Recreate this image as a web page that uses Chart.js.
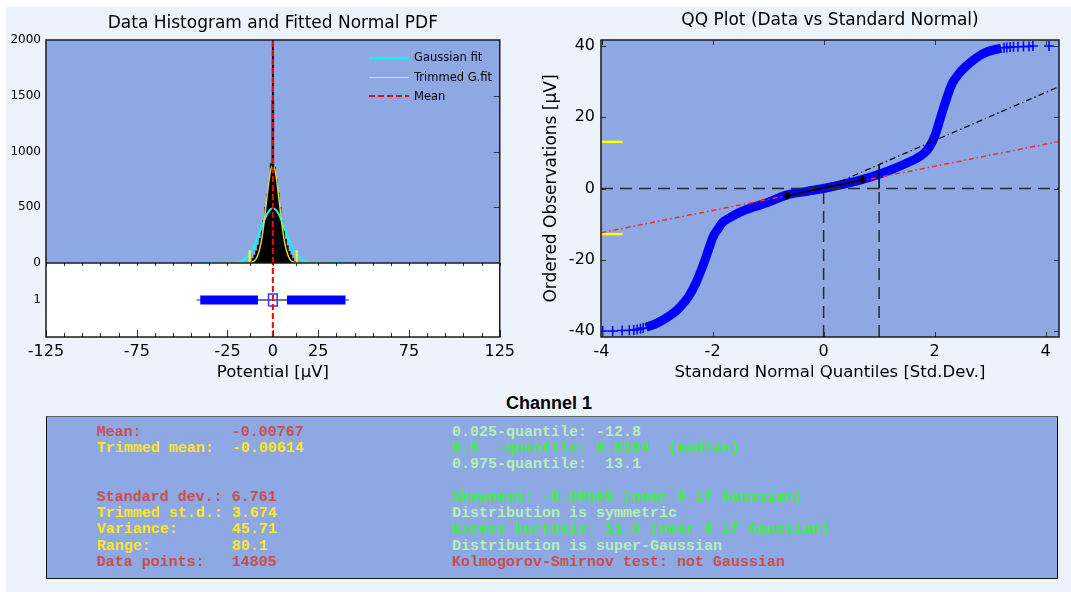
<!DOCTYPE html>
<html>
<head>
<meta charset="utf-8">
<title>Channel 1</title>
<script src="https://cdn.jsdelivr.net/npm/chart.js@4.4.1/dist/chart.umd.min.js"></script>
<style>
  html, body { margin: 0; padding: 0; }
  body { width: 1071px; height: 592px; position: relative; overflow: hidden; background: #fff; font-family: "DejaVu Sans", sans-serif; }
  #panel { position: absolute; left: 6px; top: 7px; width: 1065px; height: 585px; background: #edf3fc; }
  canvas { position: absolute; top: 0; }
  #histChart { left: 0; }
  #qqChart { left: 520px; }
  .legend { position: absolute; left: 369px; font-size: 11.5px; color: #000; height: 19px; line-height: 19px; white-space: nowrap; }
  .legend i { display: inline-block; width: 40px; height: 2px; vertical-align: middle; margin-right: 5px; }
  #channel { position: absolute; left: 0; width: 1098px; top: 393px; line-height: 20px; text-align: center; font: bold 18px "Liberation Sans", Arial, sans-serif; }
  #stats { position: absolute; left: 46px; top: 416px; width: 1012px; height: 163px; box-sizing: border-box; background: #8ea8e4; border: 1px solid #111; border-top-color: #666; }
  #stats pre { position: absolute; top: 7.5px; margin: 0; font: bold 15px/16.3px "Liberation Mono", monospace; }
  .r { color: #c8504c; } .y { color: #ffe61e; } .g { color: #b4f0b4; } .G { color: #3cf03c; }
</style>
</head>
<body>
<div id="panel"></div>
<canvas id="histChart" width="520" height="392"></canvas>
<canvas id="qqChart" width="551" height="392"></canvas>

<div class="legend" style="top:48px"><i style="background:#00ffff"></i>Gaussian fit</div>
<div class="legend" style="top:68px"><i style="background:#eeee40;height:1.5px"></i>Trimmed G.fit</div>
<div class="legend" style="top:86.5px"><i style="height:2.5px;background:repeating-linear-gradient(90deg,#ff0000 0 6px,transparent 6px 9px)"></i>Mean</div>

<div id="channel">Channel 1</div>
<div id="stats">
<pre style="left:49.7px"><span class="r">Mean:          -0.00767</span>
<span class="y">Trimmed mean:  -0.00614</span>


<span class="r">Standard dev.: 6.761</span>
<span class="y">Trimmed st.d.: 3.674</span>
<span class="y">Variance:      45.71</span>
<span class="y">Range:         80.1</span>
<span class="r">Data points:   14805</span></pre>
<pre style="left:405px"><span class="g">0.025-quantile: -12.8</span>
<span class="G">0.5  -quantile: 0.0104  (median)</span>
<span class="g">0.975-quantile:  13.1</span>

<span class="G">Skewness: -0.00509 (near 0 if Gaussian)</span>
<span class="g">Distribution is symmetric</span>
<span class="G">Excess kurtosis: 11.6 (near 0 if Gaussian)</span>
<span class="g">Distribution is super-Gaussian</span>
<span class="r">Kolmogorov-Smirnov test: not Gaussian</span></pre>
</div>

<script>
// ---- histogram panel ----
const histBins   = [-15,-14,-13,-12,-11,-10,-9,-8,-7,-6,-5,-4,-3,-2,-1,0,1,2,3,4,5,6,7,8,9,10,11,12,13,14,15];
const histCounts = [2,4,8,15,40,70,110,160,220,290,380,500,620,740,890,1460,860,750,630,500,380,290,215,155,105,70,40,15,8,4,2];

const gaussX = [-40,-30,-25,-20,-16,-14,-12,-10,-8,-6,-4,-2,0,2,4,6,8,10,12,14,16,20,25,30,40];
const gaussY = [0,1,3,6,30,57,101,164,243,331,411,469,490,469,411,331,243,164,101,57,30,6,3,1,0];

const trimX = [-31,-16,-14,-12,-11,-10,-9,-8,-7,-6,-5,-4,-3,-2,-1,0,1,2,3,4,5,6,7,8,9,10,11,12,14,16,31];
const trimY = [0,0,1,4,10,22,45,85,145,230,345,485,625,755,845,875,845,755,625,485,345,230,145,85,45,22,10,4,1,0,0];

const meanValue = -0.00767;
const medianValue = 0.0104;
const quantiles = [-12.8, 13.1];
const quantileMarkHeight = 115;

const boxWhisker  = [-42, 42];
const boxInner    = [-8.2, 7.8];
const boxOutliers = [[-40, -8.2], [7.8, 40]];
const boxCore     = [-2.4, 2.4];

const histXTicks = [-125, -75, -25, 0, 25, 75, 125];
const histXMinor = [-115,-105,-95,-85,-65,-55,-45,-35,-12.5,12.5,35,45,55,65,85,95,105,115];
const histYTicks = [0, 500, 1000, 1500, 2000];

// ---- QQ panel ----
const qqX = [-3.2,-3.0,-2.75,-2.6,-2.43,-2.3,-2.18,-2.08,-1.99,-1.9,-1.83,-1.7,-1.54,-1.3,-1.04,-0.66,-0.3,0,0.3,0.67,1.05,1.3,1.49,1.7,1.81,1.9,2.0,2.06,2.13,2.22,2.32,2.45,2.63,2.8,2.95,3.2];
const qqY = [-39.0,-37.8,-35.5,-33.5,-30.3,-26.5,-21.9,-17.5,-13.5,-11.3,-9.7,-8.3,-6.9,-5.4,-4.1,-1.8,-0.8,0,1.0,2.4,4.3,5.8,7.1,8.7,9.9,11.5,14.6,17.5,21.1,25.5,29.6,32.5,35.2,37.2,38.4,39.4];
const qqTailX = [-3.98,-3.8,-3.63,-3.5,-3.42,-3.36,-3.3,-3.25, 3.25,3.3,3.36,3.42,3.5,3.6,3.7,3.77,4.06];
const qqTailY = [-40,-40,-39.9,-39.8,-39.7,-39.6,-39.4,-39.2, 39.5,39.6,39.7,39.8,39.8,39.9,39.9,40,40];

const robustLine = [[-4.01, -12.4], [4.24, 13.2]];
const sdLine     = [[0.3, 2.0], [4.24, 28.6]];
const iqrSegment = [[-0.66, -2.0], [0.7, 2.4]];
const sdValue = 6.761;

const qqXTicks = [-4, -2, 0, 2, 4];
const qqYTicks = [-40, -20, 0, 20, 40];

const plotBlue = '#8ea8e4';

Chart.defaults.font.family = "'DejaVu Sans', sans-serif";
Chart.defaults.color = '#000';

const pts = (xs, ys) => xs.map((x, i) => ({x: x, y: ys[i]}));
const seg = arr => arr.map(p => ({x: p[0], y: p[1]}));

// fill plot backgrounds per y-scale band
const areaFill = {
  id: 'areaFill',
  beforeDraw(chart, args, opts) {
    const {ctx, chartArea} = chart;
    ctx.save();
    opts.areas.forEach(function (a) {
      const s = chart.scales[a[0]];
      ctx.fillStyle = a[1];
      ctx.fillRect(chartArea.left, s.top, chartArea.right - chartArea.left, s.bottom - s.top);
    });
    ctx.restore();
  }
};

// frame + inward tick marks
const frame = {
  id: 'frame',
  afterDatasetsDraw(chart, args, opts) {
    const {ctx, chartArea: a} = chart;
    ctx.save();
    ctx.strokeStyle = '#333';
    ctx.lineWidth = 1;
    (opts.marks || []).forEach(function (m) {
      const s = chart.scales[m.scale];
      m.values.forEach(function (v) {
        const p = Math.round(s.getPixelForValue(v)) + 0.5;
        ctx.beginPath();
        if (s.isHorizontal()) {
          const y0 = m.edge === 'top' ? a.top : m.edge === 'bottom' ? a.bottom : chart.scales[m.edge].bottom;
          ctx.moveTo(p, y0); ctx.lineTo(p, y0 + m.dir * m.len);
        } else {
          const x0 = m.edge === 'left' ? a.left : a.right;
          ctx.moveTo(x0, p); ctx.lineTo(x0 + m.dir * m.len, p);
        }
        ctx.stroke();
      });
    });
    ctx.strokeStyle = '#1a1a1a';
    ctx.lineWidth = 1.5;
    (opts.splits || []).forEach(function (id) {
      const y = chart.scales[id].bottom;
      ctx.beginPath(); ctx.moveTo(a.left, y); ctx.lineTo(a.right, y); ctx.stroke();
    });
    ctx.strokeRect(a.left, a.top, a.right - a.left, a.bottom - a.top);
    ctx.restore();
  }
};

function vline(x, y0, y1, axis, color, width, dash) {
  return { type: 'line', data: [{x: x, y: y0}, {x: x, y: y1}], yAxisID: axis,
           borderColor: color, borderWidth: width, borderDash: dash || [], pointRadius: 0 };
}
function hline(x0, x1, y, axis, color, width) {
  return { type: 'line', data: [{x: x0, y: y}, {x: x1, y: y}], yAxisID: axis,
           borderColor: color, borderWidth: width, pointRadius: 0, borderCapStyle: 'butt' };
}

const fixedTicks = list => s => { s.ticks = list.map(v => ({value: v})); };

const boxH = 0.16;
const coreRect = [
  {x: boxCore[0], y: 1 - boxH}, {x: boxCore[1], y: 1 - boxH},
  {x: boxCore[1], y: 1 + boxH}, {x: boxCore[0], y: 1 + boxH}, {x: boxCore[0], y: 1 - boxH}
];

new Chart(document.getElementById('histChart'), {
  type: 'bar',
  data: {
    datasets: [
      vline(meanValue, 0, 2000, 'yHist', '#ff0000', 2, [6, 3]),
      vline(meanValue, 0, 2, 'yBox', '#ff0000', 2, [6, 3]),
      { type: 'line', data: coreRect, yAxisID: 'yBox', borderColor: '#3535ff', borderWidth: 1.5, pointRadius: 0 },
      hline(boxOutliers[0][0], boxOutliers[0][1], 1, 'yBox', '#0000ff', 9),
      hline(boxOutliers[1][0], boxOutliers[1][1], 1, 'yBox', '#0000ff', 9),
      hline(boxInner[0], boxInner[1], 1, 'yBox', '#6a6a6a', 1.5),
      hline(boxWhisker[0], boxWhisker[1], 1, 'yBox', '#8a8af0', 2),
      vline(medianValue, 0, 2000, 'yHist', '#000000', 2),
      vline(quantiles[0], 0, quantileMarkHeight, 'yHist', '#ffff00', 2),
      vline(quantiles[1], 0, quantileMarkHeight, 'yHist', '#ffff00', 2),
      { type: 'line', data: pts(trimX, trimY), yAxisID: 'yHist', borderColor: '#d8d840', borderWidth: 1.5,
        pointRadius: 0, cubicInterpolationMode: 'monotone' },
      { type: 'line', data: pts(gaussX, gaussY), yAxisID: 'yHist', borderColor: '#00ffff', borderWidth: 2,
        pointRadius: 0, cubicInterpolationMode: 'monotone' },
      { type: 'bar', data: pts(histBins, histCounts), yAxisID: 'yHist', backgroundColor: '#000',
        barPercentage: 1, categoryPercentage: 1, borderWidth: 0 }
    ]
  },
  options: {
    responsive: false,
    animation: false,
    layout: { padding: { top: 0, right: 16, left: 0, bottom: 0 } },
    plugins: {
      legend: { display: false },
      tooltip: { enabled: false },
      title: { display: true, text: 'Data Histogram and Fitted Normal PDF', fullSize: false,
               font: { size: 17, weight: 'normal' }, color: '#000', padding: { top: 13, bottom: 6.6 } },
      areaFill: { areas: [['yHist', plotBlue], ['yBox', '#ffffff']] },
      frame: {
        splits: ['yHist'],
        marks: [
          { scale: 'x', values: histXMinor, edge: 'bottom', dir: -1, len: 4 },
          { scale: 'x', values: histXTicks, edge: 'bottom', dir: -1, len: 7 },
          { scale: 'x', values: histXMinor.concat(histXTicks), edge: 'yHist', dir: 1, len: 3 },
          { scale: 'yHist', values: [500, 1000, 1500], edge: 'right', dir: -1, len: 6 }
        ]
      }
    },
    scales: {
      x: {
        type: 'linear', offset: false, min: -125, max: 125,
        afterBuildTicks: fixedTicks(histXTicks),
        afterFit: s => { s.height = 55; },
        grid: { display: false, drawTicks: false }, border: { display: false },
        ticks: { font: { size: 16 }, padding: 5, maxRotation: 0, autoSkip: false, callback: v => String(v) },
        title: { display: true, text: 'Potential [µV]', font: { size: 16.5 }, padding: { top: 0, bottom: 9 } }
      },
      // stacked left axes are placed in reverse order: box strip listed first ends up below
      yBox: {
        type: 'linear', position: 'left', stack: 'hist', stackWeight: 74, min: 0, max: 2,
        afterBuildTicks: fixedTicks([1]),
        afterFit: s => { s.width = 46; },
        grid: { display: false, drawTicks: false }, border: { display: false },
        ticks: { font: { size: 12 }, padding: 5, callback: v => String(v) }
      },
      yHist: {
        type: 'linear', position: 'left', stack: 'hist', stackWeight: 223, min: 0, max: 2000,
        afterBuildTicks: fixedTicks(histYTicks),
        afterFit: s => { s.width = 46; },
        grid: { display: false, drawTicks: false }, border: { display: false },
        ticks: { font: { size: 12 }, padding: 5, callback: v => String(v) }
      }
    }
  },
  plugins: [areaFill, frame]
});

new Chart(document.getElementById('qqChart'), {
  type: 'scatter',
  data: {
    datasets: [
      { data: seg(iqrSegment), showLine: true, borderColor: '#000', borderWidth: 2,
        pointStyle: 'rectRot', pointRadius: 3, pointBackgroundColor: '#000', pointBorderColor: '#000' },
      { data: [{x: 1, y: 0}, {x: 1, y: sdValue}], showLine: true, borderColor: '#000', borderWidth: 1.5, pointRadius: 0 },
      { data: seg(robustLine), showLine: true, borderColor: '#e83030', borderWidth: 1.5,
        borderDash: [5, 3, 1.5, 3], pointRadius: 0 },
      { data: seg(sdLine), showLine: true, borderColor: '#000', borderWidth: 1.2,
        borderDash: [6, 3, 1.5, 3], pointRadius: 0 },
      { data: [{x: -4.01, y: 0}, {x: 4.24, y: 0}], showLine: true, borderColor: '#2a2a2a', borderWidth: 1.5,
        borderDash: [12, 7], pointRadius: 0 },
      { data: [{x: 0, y: -41.7}, {x: 0, y: 0}], showLine: true, borderColor: '#2a2a2a', borderWidth: 1.5,
        borderDash: [12, 7], pointRadius: 0 },
      { data: [{x: 1, y: -41.7}, {x: 1, y: 0}], showLine: true, borderColor: '#2a2a2a', borderWidth: 1.5,
        borderDash: [12, 7], pointRadius: 0 },
      { data: [{x: -4.01, y: quantiles[1]}, {x: -3.62, y: quantiles[1]}], showLine: true,
        borderColor: '#ffff00', borderWidth: 2.5, pointRadius: 0 },
      { data: [{x: -4.01, y: quantiles[0]}, {x: -3.62, y: quantiles[0]}], showLine: true,
        borderColor: '#ffff00', borderWidth: 2.5, pointRadius: 0 },
      { data: pts(qqTailX, qqTailY), showLine: false, pointStyle: 'cross', pointRadius: 5,
        borderColor: '#0000ff', pointBorderWidth: 1.5 },
      { data: pts(qqX, qqY), showLine: true, borderColor: '#0000ff', borderWidth: 9, pointRadius: 0,
        cubicInterpolationMode: 'monotone', borderCapStyle: 'butt' }
    ]
  },
  options: {
    responsive: false,
    animation: false,
    layout: { padding: { top: 0, right: 12, left: 0, bottom: 0 } },
    plugins: {
      legend: { display: false },
      tooltip: { enabled: false },
      title: { display: true, text: 'QQ Plot (Data vs Standard Normal)', fullSize: false,
               font: { size: 17, weight: 'normal' }, color: '#000', padding: { top: 10, bottom: 9.6 } },
      areaFill: { areas: [['y', plotBlue]] },
      frame: {
        marks: [
          { scale: 'x', values: qqXTicks, edge: 'bottom', dir: -1, len: 5 },
          { scale: 'x', values: qqXTicks, edge: 'top', dir: 1, len: 5 },
          { scale: 'y', values: qqYTicks, edge: 'left', dir: 1, len: 5 },
          { scale: 'y', values: qqYTicks, edge: 'right', dir: -1, len: 5 }
        ]
      }
    },
    scales: {
      x: {
        type: 'linear', min: -4.01, max: 4.24,
        afterBuildTicks: fixedTicks(qqXTicks),
        afterFit: s => { s.height = 55; },
        grid: { display: false, drawTicks: false }, border: { display: false },
        ticks: { font: { size: 16 }, padding: 5, maxRotation: 0, autoSkip: false, callback: v => String(v) },
        title: { display: true, text: 'Standard Normal Quantiles [Std.Dev.]', font: { size: 16.5 }, padding: { top: 0, bottom: 9 } }
      },
      y: {
        type: 'linear', min: -41.7, max: 41.7,
        afterBuildTicks: fixedTicks(qqYTicks),
        afterFit: s => { s.width = 81; },
        grid: { display: false, drawTicks: false }, border: { display: false },
        ticks: { font: { size: 16 }, padding: 6, callback: v => String(v) },
        title: { display: true, text: 'Ordered Observations [µV]', font: { size: 17 }, padding: { top: 21, bottom: 0 } }
      }
    }
  },
  plugins: [areaFill, frame]
});
</script>
</body>
</html>
